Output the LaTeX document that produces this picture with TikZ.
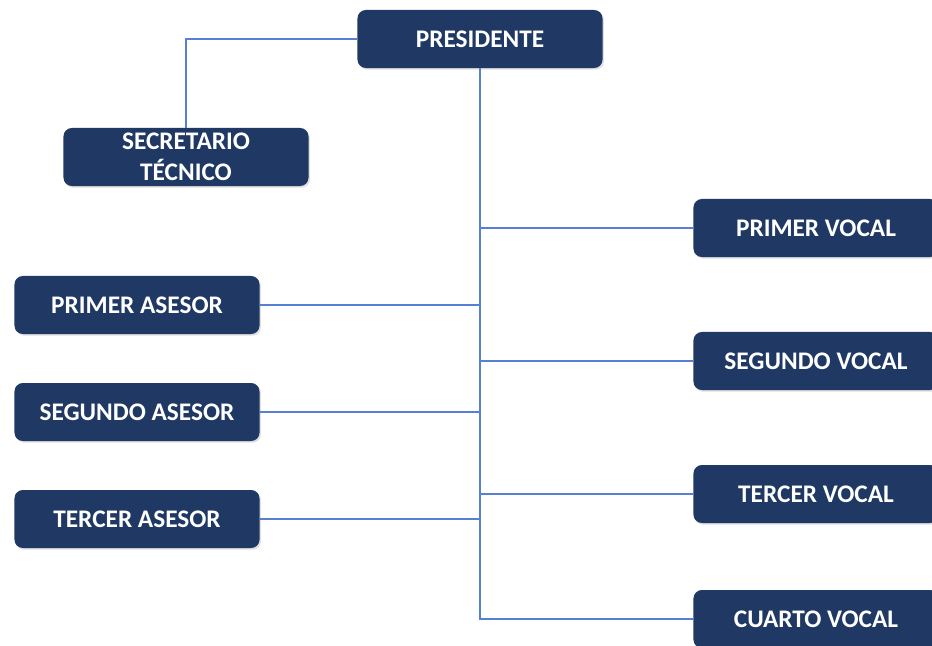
\documentclass[tikz,border=0pt]{standalone}
\usepackage{fontspec}
\setmainfont{Carlito}
\usetikzlibrary{positioning,shadows}
\definecolor{navy}{HTML}{1F3864}
\definecolor{linkblue}{HTML}{5580D4}

\begin{document}
\begin{tikzpicture}[
  x=0.025cm, y=-0.025cm,
  cargo/.style={rectangle, rounded corners=6pt, fill=navy, text=white,
    minimum width=6.125cm, minimum height=1.45cm, align=center,
    font=\fontsize{18}{22}\selectfont\bfseries, inner sep=2pt,
    drop shadow={opacity=0.25, shadow xshift=1pt, shadow yshift=-1.2pt}},
  link/.style={draw=linkblue, line width=1.8pt},
]
\clip (0,0) rectangle (932,645);
\fill[white] (0,0) rectangle (932,645);

% presidencia y secretaria
\node[cargo] (pres) at (480,39) {PRESIDENTE};
\node[cargo] (sec) at (186,157) {SECRETARIO\\T\'ECNICO};

% asesores
\node[cargo] (ase1) at (137,305) {PRIMER ASESOR};
\node[cargo] (ase2) at (137,412) {SEGUNDO ASESOR};
\node[cargo] (ase3) at (137,519) {TERCER ASESOR};

% vocales
\node[cargo] (voc1) at (816,228) {PRIMER VOCAL};
\node[cargo] (voc2) at (816,361) {SEGUNDO VOCAL};
\node[cargo] (voc3) at (816,494) {TERCER VOCAL};
\node[cargo] (voc4) at (816,619) {CUARTO VOCAL};

\draw[link] (pres.west) -| (sec.north);
\draw[link] (pres.south) |- (voc4.west);
\draw[link] (pres.south |- voc1.west) -- (voc1.west);
\draw[link] (pres.south |- voc2.west) -- (voc2.west);
\draw[link] (pres.south |- voc3.west) -- (voc3.west);
\draw[link] (ase1.east) -- (ase1.east -| pres.south);
\draw[link] (ase2.east) -- (ase2.east -| pres.south);
\draw[link] (ase3.east) -- (ase3.east -| pres.south);
\end{tikzpicture}
\end{document}
